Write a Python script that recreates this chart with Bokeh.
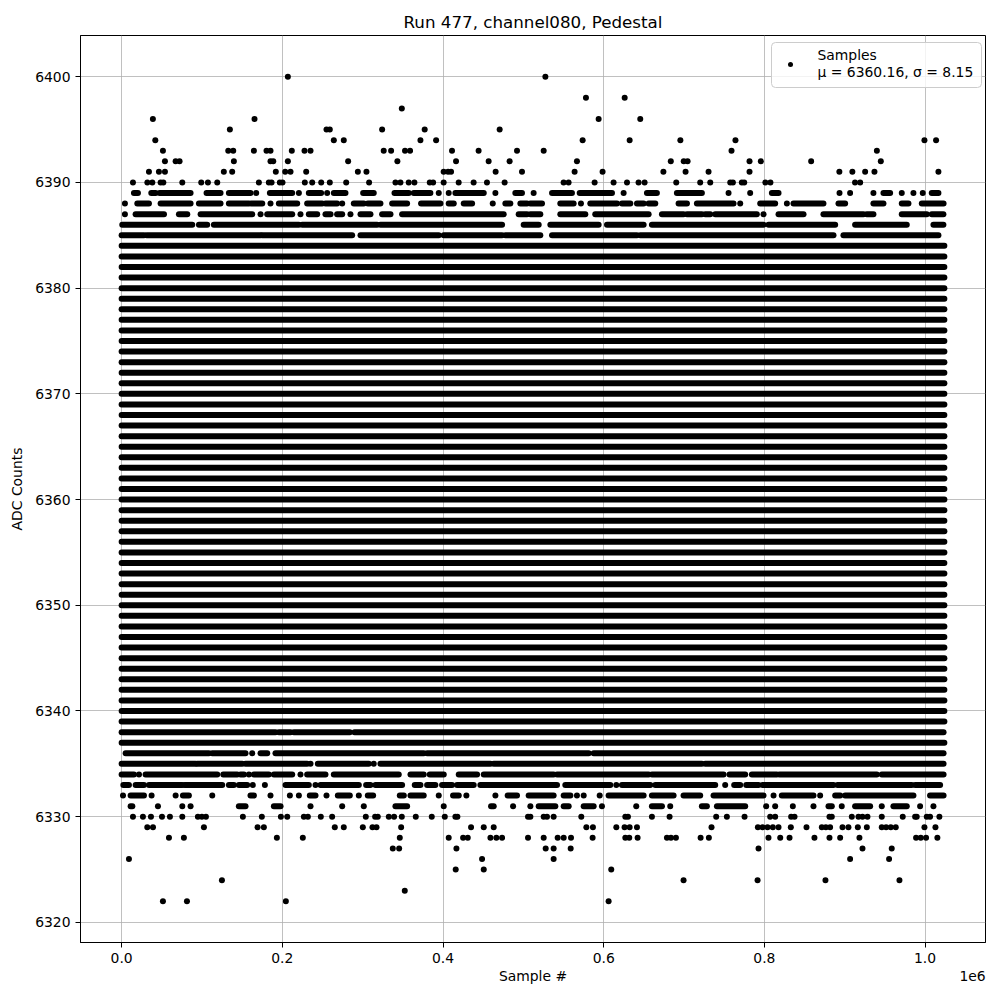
from bokeh.plotting import figure
from bokeh.models import ColumnDataSource, FixedTicker, Range1d, LinearAxis
from bokeh.core.properties import value
from bokeh.embed import file_html
from bokeh.resources import INLINE

# ---------------- data (x in thousands of samples) ----------------
last_sample_k = 1024.0

# ADC levels that are filled over the whole run
full_levels = [6337, 6339, 6340, 6341, 6342, 6343, 6344, 6345, 6346, 6347, 6348,
               6349, 6350, 6351, 6352, 6353, 6354, 6355, 6356, 6357, 6358, 6359,
               6360, 6361, 6362, 6363, 6364, 6365, 6366, 6367, 6368, 6369, 6370,
               6371, 6372, 6373, 6374, 6375, 6376, 6377, 6378, 6379, 6380, 6381,
               6382, 6383, 6384]

# partially filled levels: runs of consecutive samples (start_k, end_k)
runs_6389 = [(15.3, 20.3), (36.9, 42.3), (47.3, 85.8), (105.7, 123.1), (133.5, 160.4), (167.5, 167.5),
             (184.5, 212.3), (220.6, 220.6), (233.0, 248.3), (255.8, 255.8), (264.1, 278.6), (300.6, 313.8),
             (339.6, 357.4), (363.6, 384.3), (394.7, 394.7), (407.1, 407.1), (415.4, 450.7), (465.2, 465.2),
             (490.0, 498.3), (512.8, 512.8), (535.7, 560.5), (570.1, 610.3), (624.8, 624.8), (653.8, 666.2),
             (691.1, 722.2), (755.4, 755.4), (782.3, 782.3), (809.3, 817.6), (893.5, 893.5), (906.7, 906.7),
             (935.7, 935.7), (948.2, 956.5), (971.0, 971.0), (985.5, 985.5), (997.1, 997.1), (1008.3, 1016.6)]
runs_6388 = [(4.1, 4.1), (19.5, 34.0), (48.5, 85.8), (96.2, 123.1), (133.5, 158.4), (161.3, 175.0),
             (185.3, 185.3), (195.7, 218.5), (230.9, 249.6), (253.7, 268.2), (274.5, 274.5), (289.0, 301.4),
             (306.4, 322.1), (336.7, 355.3), (372.7, 396.8), (407.1, 413.4), (425.8, 436.2), (461.9, 461.9),
             (477.6, 483.8), (496.3, 504.6), (508.7, 523.2), (546.0, 562.6), (571.7, 571.7), (583.3, 616.5),
             (622.7, 633.1), (641.4, 649.7), (655.9, 664.2), (693.2, 703.6), (716.0, 761.6), (769.9, 769.9),
             (794.8, 813.4), (828.0, 828.0), (836.2, 873.5), (892.2, 900.5), (935.7, 948.2), (971.0, 979.3),
             (995.9, 1023.0)]
runs_6387 = [(4.1, 4.1), (17.4, 52.7), (71.3, 81.7), (98.3, 162.5), (172.9, 172.9), (181.2, 212.3),
             (222.6, 222.6), (233.0, 243.4), (253.7, 260.0), (268.2, 274.5), (284.8, 284.8), (297.3, 309.7),
             (324.2, 334.6), (349.1, 475.5), (494.2, 504.6), (508.7, 521.1), (546.0, 577.1), (589.5, 655.9),
             (672.5, 699.4), (703.6, 722.2), (726.4, 732.6), (738.8, 790.6), (798.9, 798.9), (817.6, 848.7),
             (873.5, 923.3), (927.4, 935.7), (971.0, 1002.1), (1008.3, 1022.8)]
runs_6386 = [(0.8, 87.9), (96.2, 106.5), (114.8, 220.6), (224.7, 318.0), (322.1, 473.5), (500.4, 519.1),
             (533.6, 593.7), (604.1, 649.7), (660.0, 798.9), (805.1, 888.1), (912.9, 977.2), (1010.4, 1022.8)]
runs_6385 = [(0.0, 27.8), (31.1, 172.9), (175.0, 286.9), (297.3, 394.7), (400.9, 473.5), (477.6, 521.1),
             (535.7, 641.4), (645.5, 886.0), (898.4, 1016.6)]
runs_6338 = [(0.0, 191.5), (195.7, 210.2), (214.3, 284.0), (289.8, 1023.0)]
runs_6336 = [(5.0, 108.6), (112.8, 154.2), (162.5, 162.5), (172.9, 181.2), (191.5, 376.0), (380.2, 581.3),
             (587.5, 1023.0)]
runs_6335 = [(0.0, 92.0), (94.1, 150.1), (154.2, 230.9), (235.1, 235.1), (244.2, 307.6), (313.8, 313.8),
             (322.1, 459.0), (463.1, 722.2), (726.4, 1023.0)]
runs_6334 = [(0.0, 15.3), (21.6, 21.6), (29.8, 119.0), (126.5, 143.9), (148.0, 152.2), (158.4, 158.4),
             (164.6, 183.2), (189.5, 212.3), (222.6, 222.6), (230.9, 253.7), (264.1, 344.9), (359.5, 376.0),
             (383.5, 400.9), (419.6, 442.4), (450.7, 537.7), (541.9, 655.9), (660.0, 749.2), (756.6, 776.1),
             (784.4, 815.5), (818.8, 939.9), (946.1, 1023.0)]
runs_6333 = [(2.1, 9.1), (17.4, 27.8), (34.0, 75.5), (78.4, 125.2), (133.5, 139.7), (145.9, 156.3),
             (163.3, 163.3), (178.3, 178.3), (204.0, 233.0), (241.3, 241.3), (247.5, 295.2), (304.3, 309.7),
             (315.9, 349.1), (364.8, 371.9), (380.2, 390.5), (398.8, 411.3), (417.5, 438.2), (446.5, 541.9),
             (552.2, 608.2), (615.7, 615.7), (622.7, 658.0), (664.2, 738.8), (751.2, 751.2), (762.4, 769.9),
             (777.4, 792.7), (797.7, 886.0), (891.0, 983.4), (987.6, 1018.7)]
runs_6332 = [(1.7, 1.7), (11.2, 27.8), (37.3, 37.3), (67.2, 67.2), (76.3, 83.7), (112.8, 112.8),
             (160.4, 164.6), (185.3, 185.3), (209.4, 209.4), (220.6, 220.6), (234.2, 241.3), (255.0, 255.0),
             (269.1, 284.0), (295.2, 295.2), (306.4, 313.0), (346.2, 351.2), (359.5, 376.0), (394.7, 394.7),
             (412.5, 419.6), (429.1, 429.1), (465.2, 465.2), (480.5, 492.1), (506.6, 537.7), (550.2, 558.5),
             (566.7, 566.7), (575.1, 575.1), (595.0, 595.0), (606.1, 649.7), (660.0, 687.0), (699.4, 720.1),
             (736.7, 798.9), (811.4, 811.4), (821.7, 861.1), (869.4, 869.4), (888.1, 894.3), (900.5, 985.5),
             (1006.2, 1023.0)]
runs_6331 = [(11.2, 13.3), (45.2, 45.2), (75.5, 75.5), (85.8, 85.8), (145.9, 154.2), (189.5, 197.8),
             (235.1, 235.1), (274.5, 274.5), (301.4, 301.4), (340.8, 355.3), (400.9, 400.9), (459.8, 463.1),
             (487.2, 487.2), (508.7, 508.7), (519.1, 539.8), (550.2, 556.4), (575.1, 587.5), (597.8, 597.8),
             (640.5, 640.5), (660.0, 672.5), (682.8, 682.8), (722.2, 728.4), (740.9, 776.1), (802.2, 802.2),
             (813.4, 813.4), (835.4, 835.4), (861.1, 861.1), (879.8, 883.9), (896.3, 896.3), (912.9, 931.6),
             (946.1, 946.1), (960.6, 977.2), (993.8, 993.8), (1010.4, 1010.4)]

# isolated samples per level (x in thousands)
pts_6400 = [206.9, 527.4]
pts_6398 = [577.9, 626.1]
pts_6397 = [348.7]
pts_6396 = [38.9, 165.4, 593.7, 645.5]
pts_6395 = [134.7, 255.0, 259.1, 324.2, 377.2, 470.5]
pts_6394 = [41.9, 264.1, 276.5, 371.9, 391.4, 573.8, 632.3, 695.4, 764.0, 999.2, 1013.7]
pts_6393 = [51.4, 132.7, 138.9, 164.6, 180.3, 185.3, 211.8, 227.6, 235.1, 326.2, 335.4, 352.7, 359.0,
            411.2, 444.3, 492.1, 525.3, 759.1, 940.0]
pts_6392 = [53.9, 67.2, 72.1, 139.7, 185.3, 188.7, 206.9, 281.9, 343.2, 416.2, 456.8, 482.9, 566.7,
            683.5, 699.6, 704.4, 781.5, 795.6, 858.2, 944.9]
pts_6391 = [34.0, 46.4, 53.9, 127.2, 137.6, 191.9, 203.6, 210.2, 229.7, 294.0, 304.7, 400.8, 406.3,
            410.0, 465.5, 498.3, 563.8, 598.6, 674.3, 701.9, 730.5, 781.5, 893.3, 909.5, 925.4, 937.0, 1016.6]
pts_6390 = [14.1, 32.0, 38.2, 48.5, 51.9, 75.5, 99.1, 107.4, 119.0, 170.8, 183.2, 186.6, 196.9, 200.2,
            228.0, 237.2, 248.4, 259.1, 279.5, 308.0, 340.8, 347.0, 357.3, 364.4, 383.5, 387.7, 400.8,
            419.5, 438.1, 454.7, 476.7, 550.1, 556.3, 588.7, 612.3, 629.0, 643.4, 650.9, 690.3, 720.1,
            732.6, 757.5, 760.8, 771.9, 774.9, 801.2, 807.5, 912.8, 919.2]
pts_6330 = [14.1, 26.5, 36.5, 50.2, 60.1, 75.5, 94.9, 99.9, 104.9, 150.9, 174.5, 198.2, 206.1, 226.8,
            231.8, 247.9, 262.0, 303.9, 315.5, 318.8, 332.5, 339.1, 348.7, 366.1, 386.0, 402.2, 415.4,
            417.9, 505.8, 508.7, 525.3, 529.4, 537.7, 572.1, 626.9, 630.2, 660.0, 682.0, 740.0, 753.3,
            775.3, 807.2, 813.4, 833.3, 837.5, 881.0, 883.9, 908.8, 917.1, 922.1, 928.3, 946.1, 972.2,
            987.6, 989.6, 1002.1, 1006.2, 1017.8]
pts_6329 = [31.9, 39.0, 102.4, 169.2, 177.0, 265.3, 276.5, 300.2, 312.2, 317.2, 347.9, 434.9, 450.7,
            463.1, 578.4, 586.6, 615.7, 626.0, 632.3, 641.4, 734.2, 791.9, 797.7, 803.9, 810.5, 817.6,
            832.9, 852.4, 871.5, 876.5, 881.8, 897.2, 904.6, 916.3, 927.5, 946.1, 951.5, 957.3, 963.5,
            999.2, 1012.9]
pts_6328 = [58.9, 77.5, 193.2, 225.5, 346.2, 407.1, 425.0, 430.8, 459.0, 466.4, 473.5, 505.8, 525.3,
            542.7, 550.2, 559.3, 586.2, 626.9, 631.8, 642.2, 678.7, 683.7, 689.9, 720.6, 730.9, 805.1,
            819.7, 831.3, 862.3, 881.0, 894.3, 918.3, 988.8, 994.6, 1001.2, 1015.3]
pts_6327 = [337.5, 345.4, 416.7, 527.8, 537.7, 558.9, 792.7, 922.1, 958.5]
pts_6326 = [9.1, 448.6, 537.7, 906.7, 955.2]
pts_6325 = [415.8, 450.7, 609.4]
pts_6324 = [124.8, 699.4, 791.5, 876.0, 968.1]
pts_6323 = [352.4]
pts_6322 = [51.4, 81.3, 204.4, 606.1]

x_ticks = [0, 200000, 400000, 600000, 800000, 1000000]
x_tick_labels = ["0.0", "0.2", "0.4", "0.6", "0.8", "1.0"]
y_ticks = [6320, 6330, 6340, 6350, 6360, 6370, 6380, 6390, 6400]

title_text = "Run 477, channel080, Pedestal"
x_label = "Sample #"
x_offset_text = "1e6"
y_label = "ADC Counts"
legend_line1 = "Samples"
legend_line2 = "\u03bc = 6360.16, \u03c3 = 8.15"

# ---------------- assemble ----------------
K = 1000.0
runs_by_level = {6389: runs_6389, 6388: runs_6388, 6387: runs_6387, 6386: runs_6386, 6385: runs_6385,
                 6338: runs_6338, 6336: runs_6336, 6335: runs_6335, 6334: runs_6334, 6333: runs_6333,
                 6332: runs_6332, 6331: runs_6331}
pts_by_level = {6400: pts_6400, 6398: pts_6398, 6397: pts_6397, 6396: pts_6396, 6395: pts_6395,
                6394: pts_6394, 6393: pts_6393, 6392: pts_6392, 6391: pts_6391, 6390: pts_6390,
                6330: pts_6330, 6329: pts_6329, 6328: pts_6328, 6327: pts_6327, 6326: pts_6326,
                6325: pts_6325, 6324: pts_6324, 6323: pts_6323, 6322: pts_6322}

seg = dict(x0=[], x1=[], y=[])
dots = dict(x=[], y=[])
for lv in full_levels:
    seg["x0"].append(0.0)
    seg["x1"].append(last_sample_k * K)
    seg["y"].append(lv)
for lv, runs in runs_by_level.items():
    for a, b in runs:
        if b > a:
            seg["x0"].append(a * K)
            seg["x1"].append(b * K)
            seg["y"].append(lv)
        else:
            dots["x"].append(a * K)
            dots["y"].append(lv)
for lv, xs in pts_by_level.items():
    for a in xs:
        dots["x"].append(a * K)
        dots["y"].append(lv)

x_lo, x_hi = -0.05 * last_sample_k * K, 1.05 * last_sample_k * K
y_lo, y_hi = 6318.1, 6403.9

FRAME_L, FRAME_T, FRAME_W, FRAME_H = 80, 35, 905, 907
W, H = 992, 992

p = figure(width=W, height=H, output_backend="svg", toolbar_location=None,
           x_range=Range1d(x_lo, x_hi), y_range=Range1d(y_lo, y_hi),
           min_border_left=FRAME_L, min_border_right=W - FRAME_L - FRAME_W,
           min_border_top=FRAME_T, min_border_bottom=H - FRAME_T - FRAME_H,
           title=title_text)

p.background_fill_color = "white"
p.border_fill_color = "white"
p.outline_line_color = "black"
p.outline_line_width = 1

p.title.align = "center"
p.title.text_font = "DejaVu Sans"
p.title.text_font_size = "16.7px"
p.title.text_font_style = "normal"
p.title.text_color = "black"
p.title.standoff = 8

p.grid.grid_line_color = "#b0b0b0"
p.grid.grid_line_width = 0.8

FONT_PX = "13.9px"
for ax in (p.xaxis[0], p.yaxis[0]):
    ax.minor_tick_line_color = None
    ax.major_tick_in = 0
    ax.major_tick_out = 5
    ax.major_tick_line_color = "black"
    ax.major_tick_line_width = 1
    ax.axis_line_color = "black"
    ax.axis_line_width = 1
    ax.major_label_text_font = "DejaVu Sans"
    ax.major_label_text_font_size = FONT_PX
    ax.major_label_text_color = "black"
    ax.major_label_standoff = 5
    ax.axis_label_text_font = "DejaVu Sans"
    ax.axis_label_text_font_size = FONT_PX
    ax.axis_label_text_font_style = "normal"
    ax.axis_label_text_color = "black"

p.xaxis.ticker = FixedTicker(ticks=x_ticks)
p.xaxis.major_label_overrides = {t: l for t, l in zip(x_ticks, x_tick_labels)}
p.yaxis.ticker = FixedTicker(ticks=y_ticks)
p.yaxis.axis_label = y_label
p.yaxis.axis_label_standoff = 7

# second (label-only) axis below: carries the x label and the "1e6" offset text on one row
px_x = (x_hi - x_lo) / FRAME_W
px_y = (y_hi - y_lo) / FRAME_H
label_center = (x_lo + x_hi) / 2.0
offset_center = x_lo + (972 - FRAME_L) * px_x
lab_axis = LinearAxis(ticker=FixedTicker(ticks=[label_center, offset_center]),
                      major_label_overrides={label_center: x_label, offset_center: x_offset_text})
lab_axis.axis_line_color = None
lab_axis.major_tick_line_color = None
lab_axis.minor_tick_line_color = None
lab_axis.major_tick_in = 0
lab_axis.major_tick_out = 0
lab_axis.major_label_standoff = 2
lab_axis.major_label_text_font = "DejaVu Sans"
lab_axis.major_label_text_font_size = FONT_PX
lab_axis.major_label_text_color = "black"
p.add_layout(lab_axis, "below")

p.segment(x0="x0", y0="y", x1="x1", y1="y", source=ColumnDataSource(seg),
          line_color="black", line_width=6, line_cap="round")
p.scatter(x="x", y="y", source=ColumnDataSource(dots), marker="circle", size=6,
          fill_color="black", line_color=None)

# legend (drawn manually, positions from screen pixels converted to data coordinates)
def sx(px):
    return x_lo + (px - FRAME_L) * px_x

def sy(py):
    return y_hi - (py - FRAME_T) * px_y

p.quad(left=[sx(771)], right=[sx(981)], top=[sy(42)], bottom=[sy(87)],
       fill_color="white", fill_alpha=0.8, line_color="#cccccc", line_width=1, border_radius=4)
p.scatter(x=[sx(790)], y=[sy(64)], marker="circle", size=5, fill_color="black", line_color=None)
p.text(x=[sx(817), sx(817)], y=[sy(54), sy(71.5)], text=[legend_line1, legend_line2],
       text_font=value("DejaVu Sans"), text_font_size=FONT_PX, text_color="black",
       text_baseline="middle", text_align="left")

open("out.html", "w").write(file_html(p, INLINE))
